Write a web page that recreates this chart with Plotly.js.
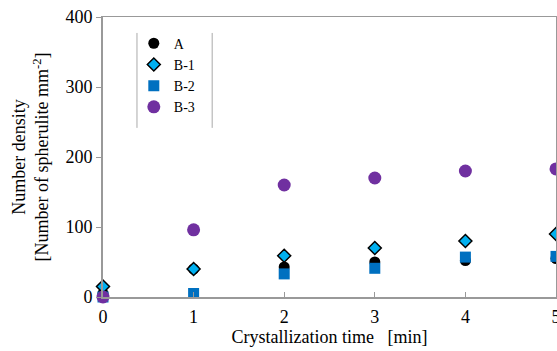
<!DOCTYPE html>
<html><head><meta charset="utf-8">
<script src="https://cdn.plot.ly/plotly-3.0.1.min.js"></script>
<style>body{margin:0;padding:0;background:#fff}#chart{width:557px;height:351px}</style>
</head><body><div id="chart"></div>
<script>
const times = [0, 1, 2, 3, 4, 5];
const seriesA = [5, 40, 43, 50, 52, 55];
const seriesB1 = [15, 40, 59, 70, 80, 90];
const seriesB2 = [0, 5, 33, 41, 57, 58];
const seriesB3 = [0, 96, 160, 170, 180, 183];
const xTicks = [0, 1, 2, 3, 4, 5];
const yTicks = [0, 100, 200, 300, 400];

const font = "Liberation Serif, Times New Roman, serif";
const traces = [
  {name: 'A', x: times, y: seriesA, mode: 'markers', type: 'scatter', cliponaxis: false,
   marker: {symbol: 'circle', size: 11, color: '#000000'}},
  {name: 'B-1', x: times, y: seriesB1, mode: 'markers', type: 'scatter', cliponaxis: false,
   marker: {symbol: 'diamond', size: 10, color: '#00B0F0', line: {color: '#000000', width: 1.5}}},
  {name: 'B-2', x: times, y: seriesB2, mode: 'markers', type: 'scatter', cliponaxis: false,
   marker: {symbol: 'square', size: 11, color: '#0070C0'}},
  {name: 'B-3', x: times, y: seriesB3, mode: 'markers', type: 'scatter', cliponaxis: false,
   marker: {symbol: 'circle', size: 13, color: '#7030A0'}}
];
const layout = {
  width: 557, height: 351,
  margin: {l: 103, r: 1, t: 17, b: 54},
  paper_bgcolor: '#fff', plot_bgcolor: '#fff',
  font: {family: font, color: '#000', size: 16},
  showlegend: true,
  legend: {x: 0.068, y: 0.962, xanchor: 'left', yanchor: 'top', bgcolor: 'rgba(0,0,0,0)',
           font: {family: font, size: 14}, tracegroupgap: 0, itemwidth: 30},
  xaxis: {range: [0, 5], tickvals: xTicks, ticktext: xTicks.map(String),
          showgrid: false, zeroline: false, showline: true, linecolor: '#999', linewidth: 1.5,
          mirror: true, ticks: 'inside', ticklen: 5, tickcolor: '#999', ticklabeloverflow: 'allow',
          ticklabelstandoff: 3,
          tickfont: {family: font, size: 18},
          title: {text: 'Crystallization time&nbsp;&nbsp;&nbsp;[min]', font: {family: font, size: 18}, standoff: 3}},
  yaxis: {range: [0, 400], tickvals: yTicks, ticktext: yTicks.map(String),
          showgrid: false, zeroline: false, showline: true, linecolor: '#999', linewidth: 2,
          mirror: true, ticks: 'outside', ticklen: 5, tickcolor: '#999',
          tickfont: {family: font, size: 18},
          title: {text: 'Number density<br>[Number of spherulite mm<sup>-2</sup>]', font: {family: font, size: 18}, standoff: 12}},
  shapes: [
    {type: 'line', xref: 'paper', yref: 'paper', x0: 0.075, x1: 0.075, y0: 0.604, y1: 0.943, line: {color: '#aaa', width: 1}},
    {type: 'line', xref: 'paper', yref: 'paper', x0: 0.241, x1: 0.241, y0: 0.604, y1: 0.943, line: {color: '#aaa', width: 1}}
  ]
};
Plotly.newPlot('chart', traces, layout, {displayModeBar: false, staticPlot: true});
</script></body></html>
